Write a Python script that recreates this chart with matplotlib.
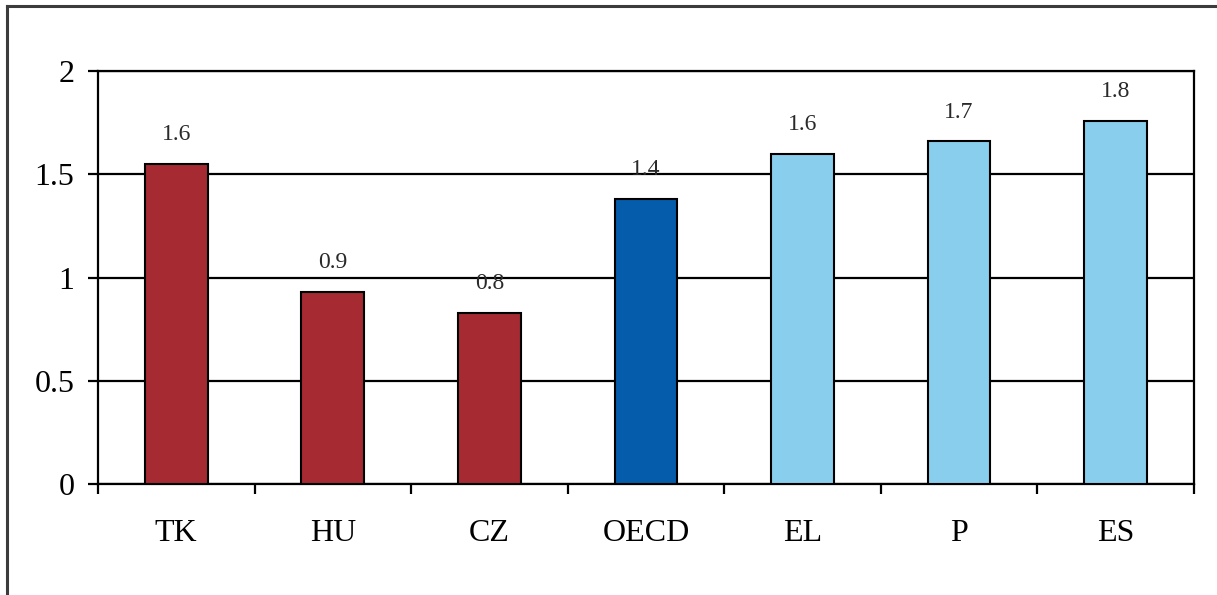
import matplotlib.pyplot as plt
import numpy as np
from matplotlib.lines import Line2D

countries = ["TK", "HU", "CZ", "OECD", "EL", "P", "ES"]
values = [1.55, 0.93, 0.83, 1.38, 1.60, 1.66, 1.76]
groups = ["low", "low", "low", "avg", "high", "high", "high"]

group_colors = {"low": "#A62A32", "avg": "#045CAB", "high": "#89CEEC"}

plt.rcParams["font.family"] = ["Liberation Serif", "DejaVu Serif"]

fig = plt.figure(figsize=(12.17, 5.95), dpi=100)
ax = fig.add_axes([0.0805, 0.1866, 0.9005, 0.694])

x = np.arange(len(countries))
colors = [group_colors[g] for g in groups]
bars = ax.bar(x, values, width=0.4, color=colors, edgecolor="black",
              linewidth=1.5, zorder=3)

for xi, v in zip(x, values):
    ax.annotate(f"{v:.1f}", (xi, v), xytext=(0, 21), textcoords="offset points",
                ha="center", va="center", fontsize=17, color="#2a2a2a", zorder=4)

ax.set_xlim(-0.5, len(countries) - 0.5)
ax.set_ylim(0, 2)
ax.set_yticks([0, 0.5, 1, 1.5, 2])
ax.set_yticklabels(["0", "0.5", "1", "1.5", "2"])
ax.yaxis.grid(True, color="black", linewidth=1.6, zorder=0)

# category labels in the middle, tick marks on the boundaries
ax.set_xticks(x)
ax.set_xticklabels(countries)
ax.set_xticks(np.arange(len(countries) + 1) - 0.5, minor=True)
ax.tick_params(axis="x", which="major", length=0, pad=25, labelsize=23)
ax.tick_params(axis="x", which="minor", length=7, width=1.6, direction="out")
ax.tick_params(axis="y", length=7, width=1.6, pad=10, labelsize=23)

for sp in ax.spines.values():
    sp.set_linewidth(1.6)
    sp.set_color("black")

# outer frame, cut off on the right and bottom
fig.add_artist(Line2D([0.0058, 0.0058], [0.0, 0.9903], transform=fig.transFigure,
                      color="#3c3c3c", linewidth=2.2))
fig.add_artist(Line2D([0.0058, 1.0], [0.9903, 0.9903], transform=fig.transFigure,
                      color="#3c3c3c", linewidth=2.2))

fig.savefig("out.png", dpi=100)
